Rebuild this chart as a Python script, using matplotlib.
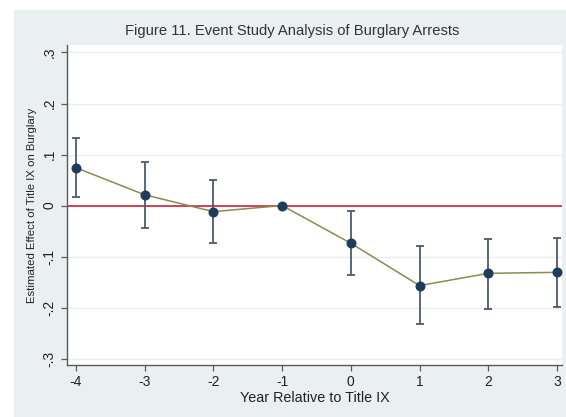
import matplotlib.pyplot as plt
from matplotlib.patches import Rectangle

plt.rcParams['font.family'] = ['Liberation Sans', 'DejaVu Sans']

### Event study estimates ###
years = [-4, -3, -2, -1, 0, 1, 2, 3]
coef = [0.074, 0.021, -0.012, 0.0, -0.074, -0.157, -0.133, -0.131]
ci_low = [0.017, -0.045, -0.073, 0.0, -0.137, -0.233, -0.202, -0.199]
ci_high = [0.132, 0.086, 0.050, 0.0, -0.010, -0.080, -0.065, -0.063]

yticks = [-0.3, -0.2, -0.1, 0, 0.1, 0.2, 0.3]
ytick_labels = ["-.3", "-.2", "-.1", "0", ".1", ".2", ".3"]

navy = "#1f3d5a"
olive = "#8c8a4e"
bg = "#eaeff2"
axis_col = "#5a5a5a"

fig = plt.figure(figsize=(5.66, 4.17), dpi=100)
fig.patches.append(Rectangle((14 / 566, 0), 1, 1 - 10 / 417, transform=fig.transFigure,
                             facecolor=bg, edgecolor="none", zorder=-1))

ax = fig.add_axes([67 / 566, 1 - 365 / 417, 495 / 566, 320 / 417])
ax.set_zorder(2)
ax.set_facecolor("white")

# grid + reference line at zero
for y in yticks:
    ax.axhline(y, color=bg, lw=1.0, zorder=1)
ax.axhline(0, color="#c8102e", lw=1.1, zorder=2)

# confidence intervals (skip the omitted year)
for x, c, lo, hi in zip(years, coef, ci_low, ci_high):
    if lo == hi:
        continue
    ax.errorbar([x], [c], yerr=[[c - lo], [hi - c]], fmt="none", ecolor="#4b5b70",
                elinewidth=1.3, capsize=3.2, capthick=1.3, zorder=3)

ax.plot(years, coef, color=olive, lw=1.1, zorder=4)
ax.plot(years, coef, "o", color=navy, ms=6.2, zorder=5)

ax.set_xlim(-4.131, 3.073)
ax.set_ylim(-0.3127, 0.3147)
ax.set_xticks(years)
ax.set_xticklabels([str(y) for y in years], fontsize=10, color="#222222")
ax.set_yticks(yticks)
ax.set_yticklabels(ytick_labels, fontsize=10, color="#222222", rotation=90, va="center")

for s in ["top", "right"]:
    ax.spines[s].set_visible(False)
for s in ["left", "bottom"]:
    ax.spines[s].set_color(axis_col)
    ax.spines[s].set_linewidth(1.0)
ax.tick_params(axis="x", length=4, width=0.9, color=axis_col, pad=3.5)
ax.tick_params(axis="y", length=4.5, width=0.9, color=axis_col, pad=3)

ax.set_xlabel("Year Relative to Title IX", fontsize=10.4, color="#222222", labelpad=1)
ax.set_ylabel("Estimated Effect of Title IX on Burglary", fontsize=8.2, color="#222222", labelpad=4)

fig.text(292 / 566, 1 - 31 / 417, "Figure 11. Event Study Analysis of Burglary Arrests",
         ha="center", va="center", fontsize=10.6, color="#333333")

fig.savefig("out.png", dpi=100)
